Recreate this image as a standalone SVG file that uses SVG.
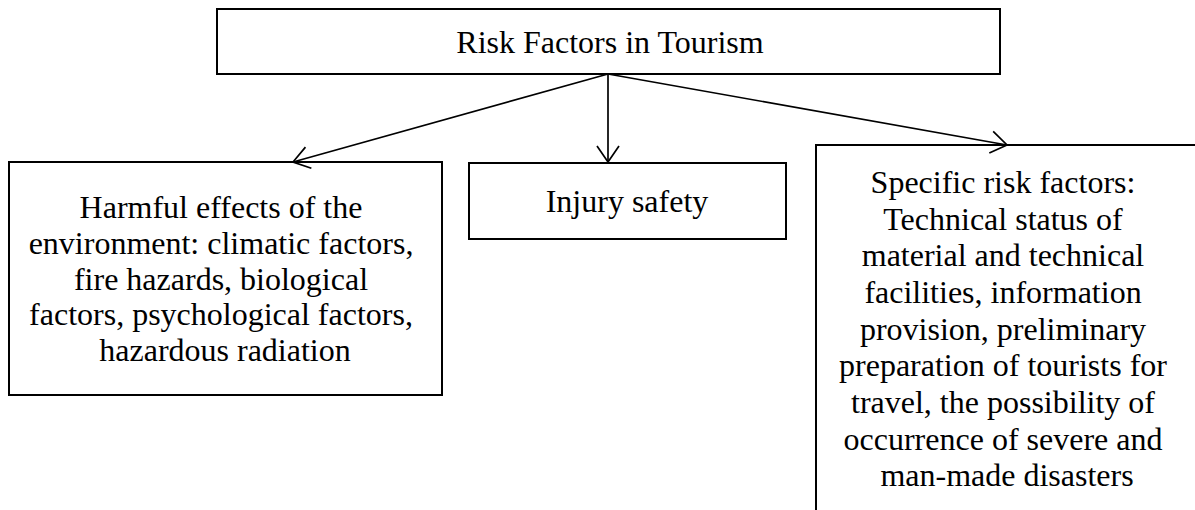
<svg xmlns="http://www.w3.org/2000/svg" width="1195" height="510" viewBox="0 0 1195 510">
<style>
  .box { fill: #ffffff; stroke: #000000; stroke-width: 2; }
  .lbl { font-family: "Liberation Serif", "Times New Roman", serif; font-size: 32px; fill: #000000; text-anchor: middle; }
  .conn { fill: none; stroke: #000000; stroke-width: 1.7; }
</style>
<defs>
  <marker id="arrow" viewBox="0 0 22 26" markerWidth="22" markerHeight="26" refX="18" refY="13" orient="auto" markerUnits="userSpaceOnUse">
    <path d="M2,2 L18,13 L2,24" fill="none" stroke="#000000" stroke-width="1.7"/>
  </marker>
</defs>
<rect x="0" y="0" width="1195" height="510" fill="#ffffff"/>
<g id="node-root">
  <rect class="box" x="217" y="9" width="783" height="65"/>
  <text class="lbl" x="610" y="53">Risk Factors in Tourism</text>
</g>
<g id="node-environment">
  <rect class="box" x="9" y="162" width="433" height="233"/>
  <text class="lbl">
    <tspan x="225" y="218">Harmful effects of the</tspan>
    <tspan x="225" y="254">environment: climatic factors,</tspan>
    <tspan x="225" y="290">fire hazards, biological</tspan>
    <tspan x="225" y="325">factors, psychological factors,</tspan>
    <tspan x="225" y="361">hazardous radiation</tspan>
  </text>
</g>
<g id="node-injury">
  <rect class="box" x="469" y="163" width="317" height="76"/>
  <text class="lbl" x="627" y="212">Injury safety</text>
</g>
<g id="node-specific">
  <rect class="box" x="816" y="145" width="390" height="400"/>
  <text class="lbl">
    <tspan x="1007" y="193">Specific risk factors:</tspan>
    <tspan x="1007" y="230">Technical status of</tspan>
    <tspan x="1007" y="266">material and technical</tspan>
    <tspan x="1007" y="303">facilities, information</tspan>
    <tspan x="1007" y="340">provision, preliminary</tspan>
    <tspan x="1007" y="376">preparation of tourists for</tspan>
    <tspan x="1007" y="413">travel, the possibility of</tspan>
    <tspan x="1007" y="450">occurrence of severe and</tspan>
    <tspan x="1007" y="486">man-made disasters</tspan>
  </text>
</g>
<g id="connectors">
  <line class="conn" x1="608" y1="74" x2="293" y2="162" marker-end="url(#arrow)"/>
  <line class="conn" x1="608" y1="74" x2="608" y2="162" marker-end="url(#arrow)"/>
  <line class="conn" x1="608" y1="74" x2="1007" y2="145" marker-end="url(#arrow)"/>
</g>
</svg>
